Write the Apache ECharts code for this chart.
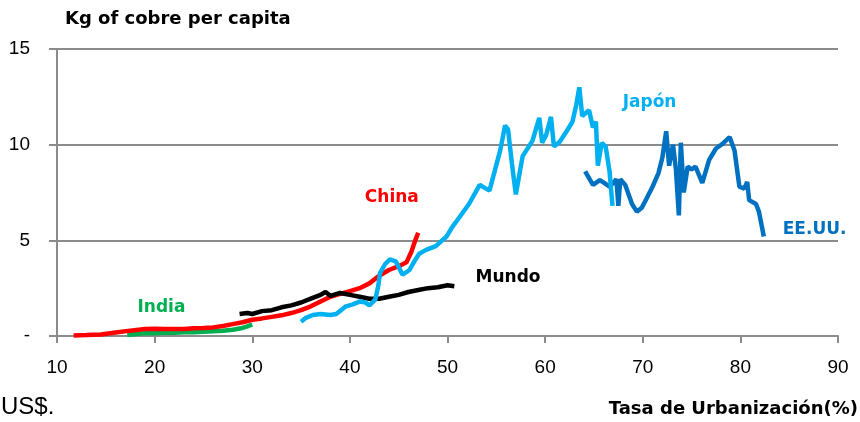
<!DOCTYPE html>
<html><head><meta charset="utf-8">
<script src="https://cdn.jsdelivr.net/npm/echarts@6/dist/echarts.min.js"></script>
<style>html,body{margin:0;padding:0;background:#fff}#c{width:860px;height:422px}</style>
</head><body><div id="c"></div>
<script>
var xTicks = [10,20,30,40,50,60,70,80,90];
var yTicks = [0,5,10,15];
var india = [[17.2,0.05],[18,0.1],[19,0.15],[20,0.15],[21,0.17],[22,0.17],[23,0.2],[24,0.2],[25,0.22],[26,0.25],[27,0.28],[28,0.33],[29,0.42],[29.5,0.5],[30,0.6]];
var china = [[11.7,0.03],[13,0.05],[14.5,0.08],[16,0.18],[17.5,0.28],[19,0.37],[20,0.38],[21,0.37],[22,0.37],[23,0.37],[24,0.4],[25,0.42],[26,0.45],[27,0.52],[28,0.62],[29,0.72],[30,0.85],[31,0.92],[32,1.0],[33,1.08],[34,1.2],[35,1.35],[36,1.55],[37,1.8],[38,2.05],[39,2.2],[40,2.35],[41,2.5],[42,2.75],[43,3.15],[44,3.45],[45,3.65],[45.8,3.85],[46.3,4.4],[46.7,5.0],[47,5.4]];
var mundo = [[28.7,1.15],[29.5,1.2],[30,1.15],[31,1.3],[32,1.35],[33,1.5],[34,1.6],[35,1.75],[36,1.95],[37,2.15],[37.5,2.3],[38,2.1],[39,2.25],[40,2.15],[41,2.05],[42,1.95],[43,1.95],[44,2.05],[45,2.15],[46,2.3],[47,2.4],[48,2.5],[49,2.55],[50,2.65],[50.7,2.6]];
var japon = [[35.0,0.75],[35.5,0.95],[36.2,1.1],[37,1.15],[38,1.1],[38.6,1.15],[39.6,1.55],[40.3,1.65],[41.0,1.8],[41.6,1.75],[42.0,1.6],[42.6,1.9],[42.9,2.6],[43.1,3.3],[43.6,3.75],[44.1,4.0],[44.7,3.9],[45.4,3.2],[46.1,3.45],[46.6,3.9],[47.1,4.3],[47.8,4.5],[48.8,4.7],[49.9,5.2],[50.5,5.7],[51,6.05],[52.2,6.9],[53.3,7.9],[54.3,7.6],[55.4,9.7],[55.9,11.0],[56.2,10.8],[56.6,9.0],[57.0,7.4],[57.7,9.4],[58.7,10.2],[59.4,11.4],[59.7,10.1],[60.1,10.5],[60.6,11.45],[60.9,9.9],[61.5,10.15],[62.2,10.7],[62.8,11.2],[63.2,12.1],[63.5,13.0],[63.8,11.5],[64.5,11.8],[64.9,10.9],[65.2,11.2],[65.4,8.9],[65.8,10.1],[66.2,9.9],[66.6,8.6],[66.9,6.8]];
var eeuu = [[64.1,8.6],[64.9,7.9],[65.6,8.15],[66.2,7.95],[66.6,7.8],[67.0,8.0],[67.3,8.2],[67.5,6.8],[67.7,8.2],[68.2,7.9],[68.9,6.9],[69.4,6.5],[69.9,6.7],[70.3,7.1],[71.0,7.8],[71.6,8.5],[72.0,9.3],[72.4,10.7],[72.7,8.9],[73.1,10.0],[73.4,8.7],[73.7,6.3],[73.9,10.1],[74.2,7.5],[74.6,8.85],[75.0,8.7],[75.4,8.85],[76.1,8.0],[76.8,9.2],[77.5,9.8],[78.2,10.05],[78.9,10.4],[79.4,9.7],[79.9,7.8],[80.4,7.7],[80.7,8.05],[80.9,7.1],[81.6,6.9],[81.9,6.5],[82.4,5.2]];
var seriesNames = ['India','China','Mundo','Japón','EE.UU.'];
var seriesColors = ['#00B050','#FF0000','#000000','#00B0F0','#0070C0'];
var labelPos = [[20.7,1.46],[44.3,7.26],[56.2,3.07],[70.7,12.2],[87.6,5.54]];
var datasets = [india, china, mundo, japon, eeuu];

var FONT = "'Liberation Sans', Arial, sans-serif";
var BOLD = "'DejaVu Sans', 'Liberation Sans', sans-serif";
var chart = echarts.init(document.getElementById('c'), null, {renderer:'canvas'});
var series = datasets.map(function(d, i){
  return {
    name: seriesNames[i], type:'line', data:d, showSymbol:false, smooth:false,
    lineStyle:{color:seriesColors[i], width:4.5}, itemStyle:{color:seriesColors[i]},
    z: i===3 ? 3 : 2,
    markPoint:{symbol:'circle', symbolSize:0, silent:true, data:[{coord:labelPos[i],
      label:{show:true, formatter:seriesNames[i], color:seriesColors[i], fontFamily:BOLD, fontWeight:'bold', fontSize:17, position:'inside'}}]}
  };
});
chart.setOption({
  animation:false,
  grid:{left:57, right:22, top:49, bottom:86},
  xAxis:{type:'value', min:10, max:90, interval:10,
    axisLine:{show:true, lineStyle:{color:'#8c8c8c', width:2}},
    axisTick:{show:true, length:7, lineStyle:{color:'#8c8c8c', width:2}},
    axisLabel:{color:'#000', fontFamily:FONT, fontSize:19, margin:22},
    splitLine:{show:false}},
  yAxis:{type:'value', min:0, max:15, interval:5,
    axisLine:{show:true, lineStyle:{color:'#8c8c8c', width:2}},
    axisTick:{show:true, length:8, lineStyle:{color:'#8c8c8c', width:2}},
    axisLabel:{color:'#000', fontFamily:FONT, fontSize:19, margin:27, formatter:function(v){return v===0?'-':String(v);}},
    splitLine:{show:true, lineStyle:{color:'#8c8c8c', width:2}}},
  graphic:[
    {type:'text', left:65, top:10, style:{text:'Kg of cobre per capita', font:'bold 18px '+BOLD, fill:'#000'}},
    {type:'text', left:1, top:395, style:{text:'US$.', font:'24px '+FONT, fill:'#000'}},
    {type:'text', right:2, top:400, style:{text:'Tasa de Urbanización(%)', font:'bold 18px '+BOLD, fill:'#000'}}
  ],
  series:series
});
</script></body></html>
